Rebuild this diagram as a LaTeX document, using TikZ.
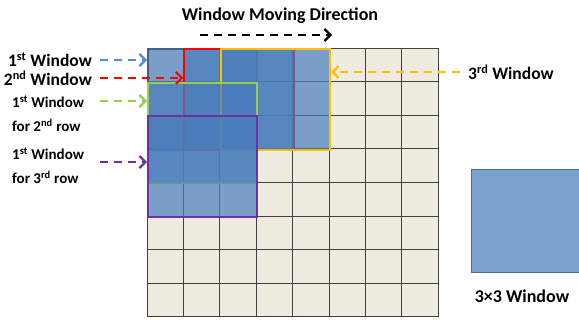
\documentclass[tikz,border=0pt]{standalone}
\usepackage{fontspec}
\setmainfont{Carlito}
\usetikzlibrary{arrows.meta,calc}
\definecolor{cellbg}{HTML}{EEECE1}
\definecolor{gridln}{HTML}{404040}
\definecolor{blL}{HTML}{7BA1CE}
\definecolor{winfill}{HTML}{4A7DBD}
\definecolor{wblue}{HTML}{3F628E}
\definecolor{wred}{HTML}{FF0000}
\definecolor{wyel}{HTML}{FFC000}
\definecolor{wgrn}{HTML}{92D050}
\definecolor{wpur}{HTML}{7030A0}
\definecolor{arblue}{HTML}{558ED5}
\definecolor{legbd}{HTML}{41719C}
\tikzset{
  lbl/.style={font=\fontsize{17.5}{20}\selectfont\bfseries, inner sep=0pt},
  lbls/.style={font=\fontsize{15}{18}\selectfont\bfseries, inner sep=0pt},
  win/.style={draw, fill=winfill, fill opacity=0.7, line width=2pt, minimum width=109.2pt, minimum height=100.8pt, inner sep=0pt, anchor=north west},
  darr/.style={line width=2.4pt, dash pattern=on 8pt off 6pt, -{Straight Barb[length=6pt,width=12pt,line width=2.2pt]}},
}
\begin{document}
\begin{tikzpicture}[x=1pt,y=-1pt]
\useasboundingbox (0,0) rectangle (579,321);
% grid cells
\foreach \i in {0,...,7}{
  \foreach \j in {0,...,7}{
    \filldraw[fill=cellbg, draw=gridln, line width=0.8pt] (147+36.4*\i,48+33.6*\j) rectangle ++(36.4,33.6);
  }
}
% windows
\node[win, draw=wblue] (w1) at (147,48) {};
\node[win, draw=wred] (w2) at (183.4,48) {};
\node[win, draw=wyel] (w3) at (219.8,48) {};
\node[win, draw=wgrn] (g) at (147,81.6) {};
\node[win, draw=wpur] (p) at (147,115.2) {};
% title
\node[lbl, font=\fontsize{18}{20}\selectfont\bfseries] (title) at (280,16) {Window Moving Direction};
\coordinate (ms) at (200,35);
\coordinate (me) at (332,35);
\draw[darr, black] (ms) -- (me);
% labels
\node[lbl, anchor=east] (l1) at (92,60) {1\textsuperscript{st} Window};
\node[lbl, anchor=east] (l2) at (92,78) {2\textsuperscript{nd} Window};
\node[lbls, anchor=west] (l3) at (12,102) {1\textsuperscript{st} Window};
\node[lbls, anchor=west] (l3b) at (12,125) {for 2\textsuperscript{nd} row};
\node[lbls, anchor=west] (l4) at (12,154) {1\textsuperscript{st} Window};
\node[lbls, anchor=west] (l4b) at (12,177) {for 3\textsuperscript{rd} row};
\node[lbl, anchor=west] (l5) at (468,72) {3\textsuperscript{rd} Window};
\coordinate (s1) at (100,60);
\coordinate (s2) at (100,78);
\coordinate (s3) at (100,101);
\coordinate (s4) at (100,162);
\coordinate (s5) at (460,72);
\draw[darr, arblue] (s1) -- (s1 -| w1.west);
\draw[darr, wred] (s2) -- (s2 -| w2.west);
\draw[darr, wgrn] (s3) -- (s3 -| g.west);
\draw[darr, wpur] (s4) -- (s4 -| p.west);
\draw[darr, wyel] (s5) -- (s5 -| w3.east);
% 3x3 window legend
\node[draw=legbd, fill=blL, line width=1.2pt, minimum width=110pt, minimum height=103pt, inner sep=0pt, anchor=north west] (legend) at (471,169) {};
\node[lbl, font=\fontsize{18}{20}\selectfont\bfseries, anchor=north] (legtxt) at (522,290) {3×3 Window};
\end{tikzpicture}
\end{document}
